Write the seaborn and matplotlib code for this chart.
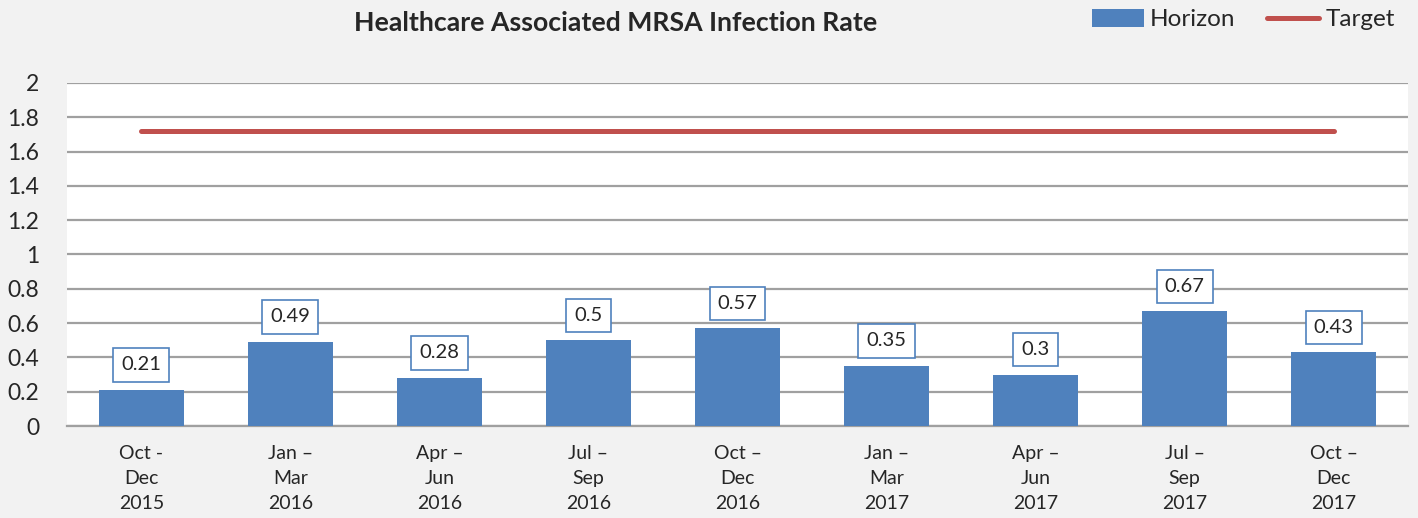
import matplotlib
matplotlib.use("Agg")
import matplotlib.pyplot as plt
import seaborn as sns
import pandas as pd
from matplotlib.patches import Patch
from matplotlib.lines import Line2D

# Data
quarters = ["Oct -\nDec\n2015", "Jan \u2013\nMar\n2016", "Apr \u2013\nJun\n2016",
            "Jul \u2013\nSep\n2016", "Oct \u2013\nDec\n2016", "Jan \u2013\nMar\n2017",
            "Apr \u2013\nJun\n2017", "Jul \u2013\nSep\n2017", "Oct \u2013\nDec\n2017"]
horizon = [0.21, 0.49, 0.28, 0.5, 0.57, 0.35, 0.3, 0.67, 0.43]
target = [1.72] * 9
y_ticks = [0, 0.2, 0.4, 0.6, 0.8, 1, 1.2, 1.4, 1.6, 1.8, 2]
y_tick_labels = ["0", "0.2", "0.4", "0.6", "0.8", "1", "1.2", "1.4", "1.6", "1.8", "2"]

bar_color = "#4f81bd"
target_color = "#c0504d"

df = pd.DataFrame({"Quarter": quarters, "Horizon": horizon, "Target": target})

sns.set_style("white")
plt.rcParams["font.family"] = ["Lato", "DejaVu Sans"]

fig = plt.figure(figsize=(14.18, 5.18), dpi=100, facecolor="#f2f2f2")
ax = fig.add_axes([0.0472, 0.1776, 0.9458, 0.6622])
ax.set_facecolor("white")

# Bars
sns.barplot(data=df, x="Quarter", y="Horizon", color=bar_color, width=0.57,
            saturation=1, linewidth=0, ax=ax, zorder=3)

# Target line
sns.lineplot(x=range(len(quarters)), y=df["Target"], color=target_color,
             linewidth=3.6, ax=ax, zorder=4, solid_capstyle="round")

# Data labels
for i, v in enumerate(horizon):
    ax.annotate(f"{v:g}", xy=(i, v), xytext=(0, 18), textcoords="offset points",
                ha="center", va="center", fontsize=14.5, zorder=5,
                bbox=dict(boxstyle="square,pad=0.4", facecolor="white",
                          edgecolor=bar_color, linewidth=1.2))

# Axes formatting
ax.set_xlim(-0.5, len(quarters) - 0.5)
ax.set_ylim(0, 2)
ax.set_yticks(y_ticks)
ax.set_yticklabels(y_tick_labels, fontsize=16.5)
ax.tick_params(axis="y", length=0, pad=20)
ax.tick_params(axis="x", length=0, pad=14, labelsize=14)
for lbl in ax.get_xticklabels():
    lbl.set_linespacing(1.55)
ax.yaxis.grid(True, color="#a0a0a0", linewidth=1.6, zorder=0)
ax.set_axisbelow(True)
for s in ["top", "right", "left"]:
    ax.spines[s].set_visible(False)
ax.spines["bottom"].set_color("#a0a0a0")
ax.spines["bottom"].set_linewidth(1.6)
ax.set_xlabel("")
ax.set_ylabel("")

# Title
fig.text(0.434, 0.955, "Healthcare Associated MRSA Infection Rate",
         ha="center", va="center", fontsize=19.2, fontweight="bold")

# Legend
handles = [Patch(facecolor=bar_color, edgecolor="none", label="Horizon"),
           Line2D([0], [0], color=target_color, linewidth=3.6, label="Target")]
fig.legend(handles=handles, loc="upper right", bbox_to_anchor=(0.999, 1.025),
           ncol=2, frameon=False, fontsize=17.5, handlelength=2.15,
           handletextpad=0.25, columnspacing=1.3, handleheight=0.75)

fig.savefig("out.png", dpi=100, facecolor=fig.get_facecolor())
